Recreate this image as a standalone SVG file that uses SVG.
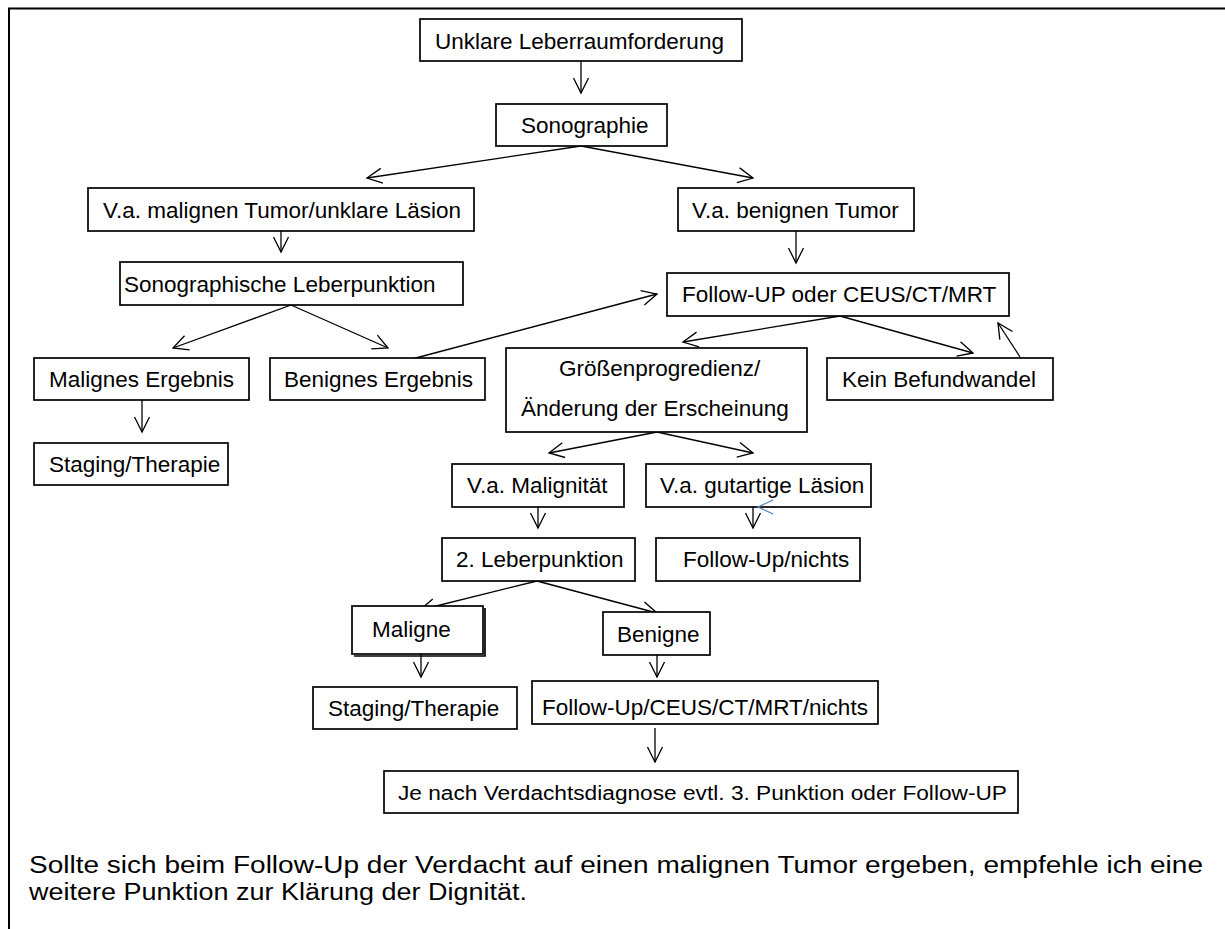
<svg xmlns="http://www.w3.org/2000/svg" width="1225" height="929" viewBox="0 0 1225 929">
<style>
.box{fill:#fff;stroke:#000;stroke-width:1.7}
.t{font-family:"Liberation Sans",Arial,sans-serif;font-size:22.5px;fill:#000}
.s{font-family:"Liberation Sans",Arial,sans-serif;font-size:20px;fill:#000}
.p{font-family:"Liberation Sans",Arial,sans-serif;font-size:23px;fill:#000}
.c line{stroke:#000;stroke-width:1.3;marker-end:url(#ah)}
</style>
<defs>
<marker id="ah" markerUnits="userSpaceOnUse" markerWidth="20" markerHeight="20" orient="auto" overflow="visible" refX="0" refY="0">
<path d="M-15,-7.5 L0,0 L-15,7.5" fill="none" stroke="#000" stroke-width="1.3"/>
</marker>
</defs>
<rect width="1225" height="929" fill="#fff"/>
<g id="frame" stroke="#000" stroke-width="2" fill="none">
<path d="M9,929 V8.5 H1225"/>
</g>
<g id="connectors" class="c">
<line x1="581" y1="61" x2="581" y2="93"/>
<line x1="581" y1="146" x2="367" y2="178"/>
<line x1="581" y1="146" x2="753" y2="178"/>
<line x1="281" y1="231" x2="281" y2="252"/>
<line x1="796" y1="231" x2="796" y2="263"/>
<line x1="291" y1="305" x2="173" y2="348"/>
<line x1="291" y1="305" x2="388" y2="348"/>
<line x1="142" y1="400" x2="142" y2="432"/>
<line x1="412" y1="359" x2="657" y2="294"/>
<line x1="840" y1="316" x2="683" y2="342"/>
<line x1="840" y1="316" x2="973" y2="353"/>
<line x1="1020" y1="357" x2="998" y2="323"/>
<line x1="657" y1="432" x2="549" y2="453"/>
<line x1="657" y1="432" x2="753" y2="453"/>
<line x1="538" y1="507" x2="538" y2="528"/>
<line x1="753" y1="507" x2="753" y2="528"/>
<line x1="537" y1="581" x2="420" y2="610"/>
<line x1="537" y1="581" x2="657" y2="613"/>
<line x1="421" y1="654" x2="421" y2="677"/>
<line x1="657" y1="655" x2="657" y2="677"/>
<line x1="655" y1="728" x2="655" y2="762"/>
</g>
<g id="n1"><rect class="box" x="420" y="19" width="322" height="42"/><text class="t" x="435" y="49">Unklare Leberraumforderung</text></g>
<g id="n2"><rect class="box" x="496" y="104" width="171" height="42"/><text class="t" x="521" y="133">Sonographie</text></g>
<g id="n3"><rect class="box" x="88" y="188" width="386" height="43"/><text class="t" x="103" y="218">V.a. malignen Tumor/unklare Läsion</text></g>
<g id="n4"><rect class="box" x="678" y="188" width="236" height="43"/><text class="t" x="692" y="218">V.a. benignen Tumor</text></g>
<g id="n5"><rect class="box" x="120" y="262" width="343" height="43"/><text class="t" x="124" y="292">Sonographische Leberpunktion</text></g>
<g id="n6"><rect class="box" x="667" y="273" width="342" height="43"/><text class="t" x="682" y="302">Follow-UP oder CEUS/CT/MRT</text></g>
<g id="n7"><rect class="box" x="34" y="358" width="215" height="42"/><text class="t" x="49" y="387">Malignes Ergebnis</text></g>
<g id="n8"><rect class="box" x="270" y="358" width="215" height="42"/><text class="t" x="284" y="387">Benignes Ergebnis</text></g>
<g id="n9"><rect class="box" x="34" y="443" width="194" height="42"/><text class="t" x="49" y="472">Staging/Therapie</text></g>
<g id="n10"><rect class="box" x="506" y="348" width="301" height="84"/><text class="t" x="559" y="376">Größenprogredienz/</text><text class="t" x="521" y="416">Änderung der Erscheinung</text></g>
<g id="n11"><rect class="box" x="827" y="358" width="226" height="42"/><text class="t" x="842" y="387">Kein Befundwandel</text></g>
<g id="n12"><rect class="box" x="452" y="464" width="172" height="43"/><text class="t" x="467" y="493">V.a. Malignität</text></g>
<g id="n13"><rect class="box" x="646" y="464" width="225" height="43"/><text class="t" x="660" y="493">V.a. gutartige Läsion</text></g>
<g id="n14"><rect class="box" x="442" y="538" width="193" height="43"/><text class="t" x="456" y="567">2. Leberpunktion</text></g>
<g id="n15"><rect class="box" x="656" y="538" width="204" height="43"/><text class="t" x="683" y="567">Follow-Up/nichts</text></g>
<g id="n16"><rect class="box" x="352" y="606" width="131" height="48"/><path d="M485,608 V656 H354" fill="none" stroke="#000" stroke-width="1.7"/><text class="t" x="372" y="637">Maligne</text></g>
<g id="n17"><rect class="box" x="603" y="612" width="107" height="43"/><text class="t" x="617" y="642">Benigne</text></g>
<g id="n18"><rect class="box" x="313" y="687" width="204" height="42"/><text class="t" x="328" y="716">Staging/Therapie</text></g>
<g id="n19"><rect class="box" x="532" y="681" width="346" height="43"/><text class="t" x="542" y="715">Follow-Up/CEUS/CT/MRT/nichts</text></g>
<g id="n20"><rect class="box" x="384" y="771" width="634" height="42"/><text class="s" x="398" y="800" textLength="609" lengthAdjust="spacingAndGlyphs">Je nach Verdachtsdiagnose evtl. 3. Punktion oder Follow-UP</text></g>
<path id="stray-mark" d="M773,500 L758,507 L773,514" fill="none" stroke="#4f81bd" stroke-width="1.2"/>
<g id="note">
<text class="p" x="29" y="873" textLength="1174" lengthAdjust="spacingAndGlyphs">Sollte sich beim Follow-Up der Verdacht auf einen malignen Tumor ergeben, empfehle ich eine</text>
<text class="p" x="29" y="900" textLength="498" lengthAdjust="spacingAndGlyphs">weitere Punktion zur Klärung der Dignität.</text>
</g>
</svg>
